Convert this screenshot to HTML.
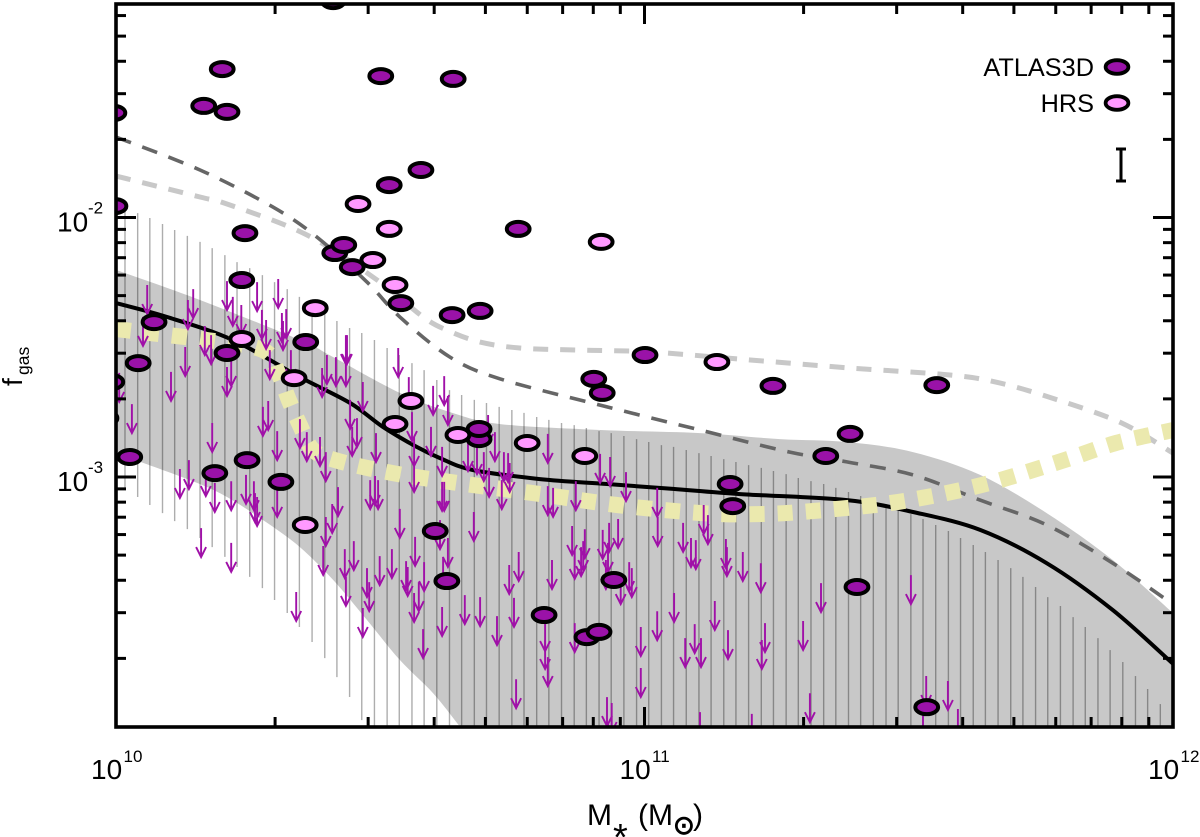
<!DOCTYPE html>
<html lang="en">
<head>
<meta charset="utf-8">
<title>Gas fraction vs stellar mass</title>
<style>
html,body{margin:0;padding:0;background:#fff;}
svg{display:block;font-family:"Liberation Sans",Arial,sans-serif;}
</style>
</head>
<body>
<svg id="chart" xmlns="http://www.w3.org/2000/svg" width="1200" height="837" viewBox="0 0 1200 837">
  <defs>
    <clipPath id="plot-clip"><rect x="116" y="4" width="1057" height="723"/></clipPath>
  </defs>
  <g id="plot" clip-path="url(#plot-clip)"></g>
  <g id="axes"></g>

  <g>
    <text transform="translate(22,386) rotate(-90)" font-size="28" fill="#000">f</text>
    <text transform="translate(29,375) rotate(-90)" font-size="17.5" fill="#000">gas</text>
  </g>
  <g fill="#000">
    <text x="587" y="825" font-size="30">M</text>
    <text x="613" y="850" font-size="38">*</text>
    <text x="638" y="825" font-size="30">(M</text>
    <text x="673" y="834" font-size="26" stroke="#000" stroke-width="0.9" style="font-family:'DejaVu Sans',sans-serif">⊙</text>
    <text x="693" y="825" font-size="30">)</text>
  </g>

  <g>
    <text x="1094" y="76" font-size="25.3" text-anchor="end" fill="#000">ATLAS3D</text>
    <ellipse cx="1117" cy="67" rx="11.4" ry="6.8" fill="#9a12a8" stroke="#000" stroke-width="3.8"/>
    <text x="1094" y="112" font-size="25.3" text-anchor="end" fill="#000">HRS</text>
    <ellipse cx="1117" cy="103" rx="11.4" ry="6.8" fill="#ff99ff" stroke="#000" stroke-width="3.8"/>
  </g>
  <path d="M1116 149H1126M1121 149V181M1116 181H1126" fill="none" stroke="#000" stroke-width="3"/>
</svg>

<script>
// Axis data
const xMajorExponents = [10, 11, 12];
const yMajorExponents = [-2, -3];
const minorMultipliers = [2, 3, 4, 5, 6, 7, 8, 9];

// Series: log10(stellar mass), log10(gas fraction)
const atlasLogMass = [9.996,9.998,9.992,9.981,10.026,10.042,10.187,10.248,10.312,10.210,
  10.238,10.244,10.411,10.166,10.210,10.201,10.501,10.638,10.517,10.577,
  10.414,10.431,10.447,10.539,10.636,10.689,10.359,10.072,10.761,11.001,
  10.904,10.920,11.243,11.553,11.389,11.343,11.162,11.167,11.402,11.534,
  10.942,10.626,10.810,10.891,10.914,10.604,10.687,10.687];
const atlasLogFgas = [-1.597,-1.956,-2.634,-2.773,-2.923,-2.561,-2.985,-2.935,-3.019,-2.522,
  -2.241,-2.060,-1.166,-1.570,-1.593,-1.428,-1.455,-1.466,-1.875,-1.817,
  -2.137,-2.106,-2.191,-2.330,-2.376,-2.360,-2.480,-2.403,-2.044,-2.530,
  -2.622,-2.676,-2.649,-2.646,-2.834,-2.919,-3.027,-3.112,-3.424,-3.887,
  -3.397,-3.401,-3.532,-3.617,-3.597,-3.208,-2.854,-2.815];

const hrsLogMass = [10.458,10.517,10.486,10.528,10.377,10.918,11.137,10.238,10.337,10.558,10.528,10.647,10.778,10.887,10.358];
const hrsLogFgas = [-1.948,-2.044,-2.164,-2.260,-2.349,-2.094,-2.557,-2.468,-2.619,-2.707,-2.796,-2.838,-2.869,-2.919,-3.185];

const limitLogMass = [
  10.059,10.146,10.136,10.051,10.210,10.221,10.237,10.267,10.307,10.276,
  10.284,10.316,10.322,10.314,10.168,10.180,10.131,10.104,10.218,10.210,
  10.291,10.331,10.390,10.399,10.416,10.435,10.437,10.435,10.467,10.534,
  10.554,10.600,10.621,10.628,10.443,10.456,10.348,10.361,10.278,10.288,
  10.182,10.305,10.386,10.397,10.447,10.492,10.560,10.564,10.564,10.596,
  10.617,10.030,10.138,10.121,10.170,10.006,10.187,10.218,10.246,10.261,
  10.263,10.267,10.305,10.397,10.409,10.420,10.481,10.490,10.496,10.161,
  10.218,10.392,10.433,10.435,10.450,10.341,10.475,10.479,10.467,10.499,
  10.522,10.537,10.566,10.549,10.552,10.583,10.573,10.564,10.617,10.581,
  10.613,10.628,10.619,10.617,10.621,10.666,10.683,10.696,10.706,10.717,
  10.704,10.730,10.734,10.742,10.745,10.817,10.916,10.935,10.965,11.024,
  11.025,10.817,10.827,10.870,10.677,10.863,10.887,10.884,10.880,10.868,
  10.921,10.933,10.950,10.931,10.927,11.112,11.120,11.073,11.088,11.097,
  11.154,11.156,11.186,11.220,10.762,10.744,10.825,10.753,10.660,10.689,
  10.721,10.955,10.971,10.976,11.056,11.133,11.024,10.993,11.095,11.077,
  11.107,11.158,11.228,11.222,10.868,10.812,10.812,10.817,10.993,10.757,
  10.929,10.938,11.105,11.203,11.334,11.300,11.504,11.313,11.533,11.574,
  11.527,11.593];
const limitLogFgas = [
  -2.260,-2.276,-2.318,-2.383,-2.245,-2.306,-2.337,-2.249,-2.237,-2.356,
  -2.395,-2.399,-2.353,-2.368,-2.418,-2.453,-2.499,-2.595,-2.538,-2.576,
  -2.511,-2.511,-2.580,-2.530,-2.538,-2.453,-2.453,-2.538,-2.634,-2.503,
  -2.615,-2.649,-2.611,-2.688,-2.703,-2.773,-2.777,-2.827,-2.730,-2.707,
  -2.792,-2.823,-2.846,-2.904,-2.807,-2.831,-2.750,-2.846,-2.946,-2.807,
  -2.884,-2.719,-2.935,-2.969,-2.962,-2.599,-3.023,-3.016,-2.992,-3.016,
  -3.062,-3.077,-3.042,-3.154,-3.104,-3.039,-3.012,-2.996,-3.012,-3.197,
  -3.254,-3.266,-3.278,-3.385,-3.247,-3.443,-3.351,-3.405,-3.505,-3.305,
  -3.278,-3.123,-3.231,-3.324,-3.347,-3.328,-3.405,-3.447,-3.501,-3.586,
  -3.166,-3.235,-3.308,-3.019,-3.019,-2.865,-2.877,-2.904,-2.965,-2.827,
  -2.761,-3.012,-2.904,-2.908,-2.946,-2.834,-2.911,-2.923,-2.981,-3.042,
  -3.154,-3.035,-3.042,-3.016,-3.135,-3.189,-3.201,-3.247,-3.270,-3.281,
  -3.204,-3.177,-3.162,-3.254,-3.320,-3.108,-3.147,-3.177,-3.235,-3.243,
  -3.239,-3.270,-3.289,-3.332,-3.289,-3.339,-3.320,-3.466,-3.455,-3.463,
  -3.536,-3.378,-3.328,-3.351,-3.447,-3.478,-3.517,-3.578,-3.567,-3.621,
  -3.621,-3.590,-3.563,-3.628,-3.563,-3.559,-3.628,-3.694,-3.736,-3.779,
  -3.848,-3.871,-3.906,-3.913,-3.409,-3.555,-3.378,-3.833,-3.767,-3.786,
  -3.898,-3.894];

const medianLogMass = [10.000,10.096,10.221,10.348,10.443,10.505,10.569,10.613,10.675,10.802,10.929,11.054,11.181,11.383,11.508,11.635,11.761,11.886,12.000];
const medianLogFgas = [-2.330,-2.383,-2.472,-2.615,-2.715,-2.807,-2.884,-2.927,-2.973,-3.008,-3.027,-3.046,-3.066,-3.089,-3.135,-3.204,-3.332,-3.513,-3.720];

const bandUpperLogMass = [10.000,10.159,10.348,10.411,10.537,10.632,10.727,10.916,11.105,11.256,11.383,11.508,11.635,11.761,11.886,12.000];
const bandUpperLogFgas = [-2.202,-2.318,-2.472,-2.538,-2.676,-2.750,-2.796,-2.819,-2.831,-2.854,-2.865,-2.904,-2.992,-3.139,-3.320,-3.524];
const bandLowerLogMass = [10.000,10.140,10.210,10.286,10.348,10.411,10.475,10.537,10.600,10.650,10.700];
const bandLowerLogFgas = [-2.908,-3.012,-3.077,-3.177,-3.270,-3.397,-3.551,-3.705,-3.833,-3.960,-4.090];

const darkDashLogMass = [10.000,10.159,10.297,10.380,10.475,10.537,10.632,10.727,10.916,11.105,11.275,11.383,11.508,11.635,11.761,11.886,11.994];
const darkDashLogFgas = [-1.690,-1.817,-1.960,-2.075,-2.249,-2.383,-2.538,-2.622,-2.723,-2.819,-2.904,-2.942,-2.992,-3.089,-3.185,-3.332,-3.482];

const lightDashLogMass = [10.000,10.159,10.210,10.361,10.494,10.581,10.626,10.689,10.764,10.878,11.010,11.200,11.389,11.578,11.673,11.782,11.903,12.000];
const lightDashLogFgas = [-1.840,-1.921,-1.948,-2.067,-2.241,-2.383,-2.434,-2.480,-2.503,-2.511,-2.518,-2.549,-2.580,-2.607,-2.638,-2.703,-2.792,-2.908];

const modelLogMass = [10.000,10.064,10.172,10.278,10.307,10.327,10.348,10.373,10.420,10.524,10.632,10.789,10.948,11.109,11.213,11.319,11.480,11.638,11.790,11.892,12.000];
const modelLogFgas = [-2.430,-2.445,-2.472,-2.511,-2.599,-2.703,-2.800,-2.896,-2.938,-2.985,-3.019,-3.062,-3.108,-3.139,-3.143,-3.131,-3.096,-3.031,-2.938,-2.869,-2.819];

const hatchLogMass = [10.017,10.041,10.064,10.088,10.111,10.135,10.159,10.182,10.206,10.229,10.253,10.277,10.300,10.324,10.347,10.371,10.395,10.418,10.442,10.465,10.489,10.513,10.536,10.560,10.583,10.607,10.631,10.654,10.678,10.701,10.725,10.749,10.772,10.796,10.819,10.843,10.867,10.890,10.914,10.937,10.961,10.985,11.008,11.032,11.055,11.079,11.103,11.126,11.150,11.173,11.197,11.221,11.244,11.268,11.291,11.315,11.339,11.362,11.386,11.409,11.433,11.457,11.480,11.504,11.527,11.551,11.575,11.598,11.622,11.645,11.669,11.693,11.716,11.740,11.763,11.787,11.811,11.834,11.858,11.881,11.905,11.929,11.952,11.976];
const hatchUpperLogFgas = [-1.963,-1.983,-2.002,-2.025,-2.048,-2.071,-2.094,-2.118,-2.145,-2.172,-2.195,-2.222,-2.249,-2.276,-2.306,-2.337,-2.368,-2.399,-2.426,-2.445,-2.472,-2.503,-2.530,-2.561,-2.588,-2.626,-2.665,-2.684,-2.703,-2.715,-2.730,-2.742,-2.753,-2.769,-2.780,-2.792,-2.800,-2.811,-2.823,-2.831,-2.842,-2.854,-2.865,-2.877,-2.884,-2.896,-2.908,-2.919,-2.931,-2.942,-2.954,-2.965,-2.977,-2.989,-3.004,-3.016,-3.027,-3.042,-3.058,-3.073,-3.089,-3.108,-3.127,-3.143,-3.162,-3.185,-3.208,-3.235,-3.262,-3.289,-3.320,-3.351,-3.385,-3.424,-3.463,-3.497,-3.540,-3.578,-3.621,-3.667,-3.713,-3.767,-3.817,-3.875];
const hatchLowerLogFgas = [-3.046,-3.077,-3.108,-3.139,-3.170,-3.201,-3.235,-3.270,-3.308,-3.347,-3.385,-3.428,-3.474,-3.524,-3.578,-3.636,-3.698,-3.771,-3.848,-3.937,
  -4.05,-4.05,-4.05,-4.05,-4.05,-4.05,-4.05,-4.05,-4.05,-4.05,-4.05,-4.05,-4.05,-4.05,-4.05,-4.05,
  -4.05,-4.05,-4.05,-4.05,-4.05,-4.05,-4.05,-4.05,-4.05,-4.05,-4.05,-4.05,-4.05,-4.05,-4.05,-4.05,
  -4.05,-4.05,-4.05,-4.05,-4.05,-4.05,-4.05,-4.05,-4.05,-4.05,-4.05,-4.05,-4.05,-4.05,-4.05,-4.05,
  -4.05,-4.05,-4.05,-4.05,-4.05,-4.05,-4.05,-4.05,-4.05,-4.05,-4.05,-4.05,-4.05,-4.05,-4.05,-4.05];

// Axis functions
function xScale(logMass) { return 116 + (logMass - 10) * 528.5; }
function yScale(logFgas) { return 217.5 + (-2 - logFgas) * 259.5; }

const NS = 'http://www.w3.org/2000/svg';
const plot = document.getElementById('plot');
const axes = document.getElementById('axes');

function make(tag, parent, attrs) {
  const el = document.createElementNS(NS, tag);
  for (const k in attrs) el.setAttribute(k, attrs[k]);
  parent.appendChild(el);
  return el;
}

function smoothPath(xs, ys, moveFirst) {
  const pts = xs.map((v, i) => [xScale(v), yScale(ys[i])]);
  let d = (moveFirst === false ? 'L' : 'M') + pts[0][0].toFixed(1) + ' ' + pts[0][1].toFixed(1);
  for (let i = 0; i < pts.length - 1; i++) {
    const p0 = pts[Math.max(i - 1, 0)], p1 = pts[i], p2 = pts[i + 1], p3 = pts[Math.min(i + 2, pts.length - 1)];
    const c1x = p1[0] + (p2[0] - p0[0]) / 6, c1y = p1[1] + (p2[1] - p0[1]) / 6;
    const c2x = p2[0] - (p3[0] - p1[0]) / 6, c2y = p2[1] - (p3[1] - p1[1]) / 6;
    d += 'C' + c1x.toFixed(1) + ' ' + c1y.toFixed(1) + ' ' + c2x.toFixed(1) + ' ' + c2y.toFixed(1) + ' ' + p2[0].toFixed(1) + ' ' + p2[1].toFixed(1);
  }
  return d;
}

// Shaded band (closed along the bottom, below the visible axis range)
const bandPath = smoothPath(bandUpperLogMass, bandUpperLogFgas) +
  'L' + xScale(12) + ' ' + yScale(-4.09) +
  smoothPath(bandLowerLogMass.slice().reverse(), bandLowerLogFgas.slice().reverse(), false) + 'Z';
const band = make('path', plot, { d: bandPath, fill: '#c8c8c8' });



// Vertical hatching
hatchLogMass.forEach(function (m, i) {
  const hatch = make('line', plot, {
    x1: xScale(m), x2: xScale(m), y1: yScale(hatchUpperLogFgas[i]), y2: yScale(hatchLowerLogFgas[i]),
    stroke: '#000', 'stroke-opacity': '0.32', 'stroke-width': '1.4'
  });
  
  
});

// Curves
const lightDash = make('path', plot, { d: smoothPath(lightDashLogMass, lightDashLogFgas), fill: 'none', stroke: '#c8c8c8', 'stroke-width': '5', 'stroke-dasharray': '15 12' });



const darkDash = make('path', plot, { d: smoothPath(darkDashLogMass, darkDashLogFgas), fill: 'none', stroke: '#666', 'stroke-width': '3.6', 'stroke-dasharray': '16 12' });



const median = make('path', plot, { d: smoothPath(medianLogMass, medianLogFgas), fill: 'none', stroke: '#000', 'stroke-width': '4' });



const model = make('path', plot, { d: smoothPath(modelLogMass, modelLogFgas), fill: 'none', stroke: '#ebe9ae', 'stroke-width': '16', 'stroke-dasharray': '15 13.2' });



// Upper-limit arrows
limitLogMass.forEach(function (m, i) {
  const x = xScale(m), y = yScale(limitLogFgas[i]), tip = y + 29;
  const arrow = make('path', plot, {
    d: 'M' + x.toFixed(1) + ' ' + y.toFixed(1) + 'V' + tip.toFixed(1) +
       'M' + (x - 5).toFixed(1) + ' ' + (tip - 10).toFixed(1) + 'L' + x.toFixed(1) + ' ' + tip.toFixed(1) + 'L' + (x + 5).toFixed(1) + ' ' + (tip - 10).toFixed(1),
    fill: 'none', stroke: '#a010a8', 'stroke-width': '1.9'
  });
  
  
});

// Detections
atlasLogMass.forEach(function (m, i) {
  const point = make('ellipse', plot, { cx: xScale(m), cy: yScale(atlasLogFgas[i]), rx: 11.4, ry: 7, fill: '#9a12a8', stroke: '#000', 'stroke-width': '4' });
  
  
});
hrsLogMass.forEach(function (m, i) {
  const point = make('ellipse', plot, { cx: xScale(m), cy: yScale(hrsLogFgas[i]), rx: 11.4, ry: 7, fill: '#ff99ff', stroke: '#000', 'stroke-width': '4' });
  
  
});

// Frame
const frame = make('rect', axes, { x: 116, y: 4, width: 1057, height: 723, fill: 'none', stroke: '#000', 'stroke-width': '3.6' });



function tick(x1, y1, x2, y2) {
  const t = make('line', axes, { x1: x1, y1: y1, x2: x2, y2: y2, stroke: '#000', 'stroke-width': '3' });
  
  
}

// X ticks
xMajorExponents.forEach(function (e, i) {
  const x = xScale(e);
  tick(x, 727, x, 707);
  tick(x, 4, x, 24);
  const label = make('text', axes, { x: x - 25, y: 779, 'font-size': 28, fill: '#000' });
  
  
  label.textContent = '10';
  const sup = make('text', axes, { x: x + 7.5, y: 762, 'font-size': 17, fill: '#000' });
  
  
  sup.textContent = String(e);
  if (i < xMajorExponents.length - 1) {
    minorMultipliers.forEach(function (k) {
      const mx = xScale(e + Math.log10(k));
      tick(mx, 727, mx, 717);
      tick(mx, 4, mx, 14);
    });
  }
});

// Y ticks
yMajorExponents.forEach(function (e) {
  const y = yScale(e);
  tick(116, y, 136, y);
  tick(1173, y, 1153, y);
  const label = make('text', axes, { x: 57, y: y + 14, 'font-size': 28, fill: '#000' });
  
  
  label.textContent = '10';
  const sup = make('text', axes, { x: 88, y: y - 4, 'font-size': 17, fill: '#000' });
  
  
  sup.textContent = String(e);
});
[-4, -3, -2].forEach(function (e) {
  minorMultipliers.forEach(function (k) {
    const y = yScale(e + Math.log10(k));
    if (y > 6 && y < 725) {
      tick(116, y, 126, y);
      tick(1173, y, 1163, y);
    }
  });
});
</script>
</body>
</html>
